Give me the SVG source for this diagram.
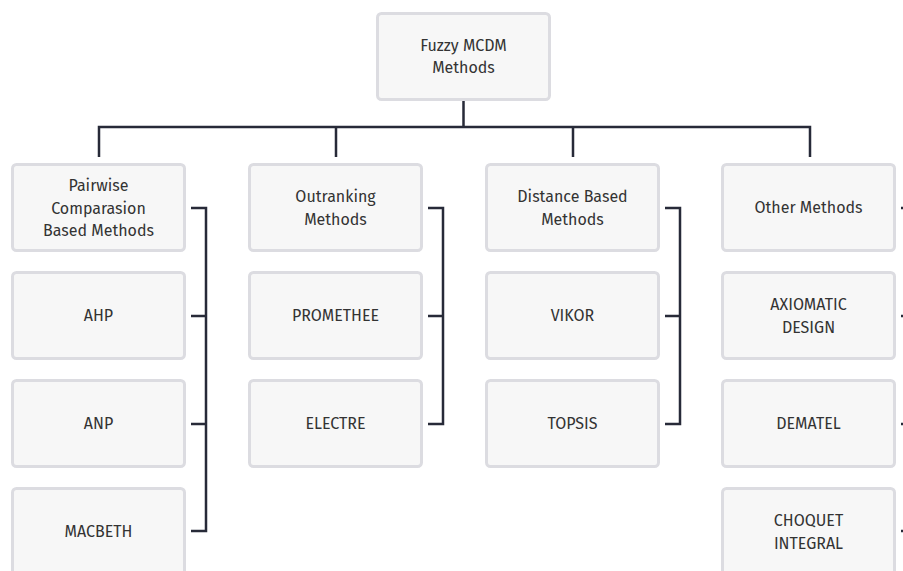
<svg xmlns="http://www.w3.org/2000/svg" width="903" height="571" viewBox="0 0 903 571">
<style>
.box{fill:#f7f7f7;stroke:#dcdce1;stroke-width:3}
.t{font-family:"Fira Sans","Open Sans","Noto Sans",sans-serif;font-size:16px;fill:#333;text-anchor:middle}
.c{fill:none;stroke:#272a38;stroke-width:2.5}
</style>
<rect width="903" height="571" fill="#fff"/>
<g id="connectors">
<path class="c" d="M463.5 100V127M99 157V127H810V157M336 127V157M573 127V157"/>
<path class="c" d="M191 208H206V531H191M191 316H206M191 424H206"/>
<path class="c" d="M428 208H443V424H428M428 316H443"/>
<path class="c" d="M665 208H680V424H665M665 316H680"/>
<path class="c" d="M901 208H905M901 316H905M901 424H905M901 531H905"/>
</g>
<g id="root"><rect class="box" x="377.5" y="13.5" width="172" height="86" rx="4"/><text class="t" x="463.5" y="51">Fuzzy MCDM</text><text class="t" x="463.5" y="73">Methods</text></g>
<g id="pairwise"><rect class="box" x="12.5" y="164.5" width="172" height="86" rx="4"/><text class="t" x="98.5" y="191">Pairwise</text><text class="t" x="98.5" y="214">Comparasion</text><text class="t" x="98.5" y="236">Based Methods</text></g>
<g id="ahp"><rect class="box" x="12.5" y="272.5" width="172" height="86" rx="4"/><text class="t" x="98.5" y="321">AHP</text></g>
<g id="anp"><rect class="box" x="12.5" y="380.5" width="172" height="86" rx="4"/><text class="t" x="98.5" y="429">ANP</text></g>
<g id="macbeth"><rect class="box" x="12.5" y="488.5" width="172" height="86" rx="4"/><text class="t" x="98.5" y="537">MACBETH</text></g>
<g id="outranking"><rect class="box" x="249.5" y="164.5" width="172" height="86" rx="4"/><text class="t" x="335.5" y="202">Outranking</text><text class="t" x="335.5" y="225">Methods</text></g>
<g id="promethee"><rect class="box" x="249.5" y="272.5" width="172" height="86" rx="4"/><text class="t" x="335.5" y="321">PROMETHEE</text></g>
<g id="electre"><rect class="box" x="249.5" y="380.5" width="172" height="86" rx="4"/><text class="t" x="335.5" y="429">ELECTRE</text></g>
<g id="distance"><rect class="box" x="486.5" y="164.5" width="172" height="86" rx="4"/><text class="t" x="572.5" y="202">Distance Based</text><text class="t" x="572.5" y="225">Methods</text></g>
<g id="vikor"><rect class="box" x="486.5" y="272.5" width="172" height="86" rx="4"/><text class="t" x="572.5" y="321">VIKOR</text></g>
<g id="topsis"><rect class="box" x="486.5" y="380.5" width="172" height="86" rx="4"/><text class="t" x="572.5" y="429">TOPSIS</text></g>
<g id="other"><rect class="box" x="722.5" y="164.5" width="172" height="86" rx="4"/><text class="t" x="808.5" y="213">Other Methods</text></g>
<g id="axiomatic"><rect class="box" x="722.5" y="272.5" width="172" height="86" rx="4"/><text class="t" x="808.5" y="310">AXIOMATIC</text><text class="t" x="808.5" y="333">DESIGN</text></g>
<g id="dematel"><rect class="box" x="722.5" y="380.5" width="172" height="86" rx="4"/><text class="t" x="808.5" y="429">DEMATEL</text></g>
<g id="choquet"><rect class="box" x="722.5" y="488.5" width="172" height="86" rx="4"/><text class="t" x="808.5" y="526">CHOQUET</text><text class="t" x="808.5" y="549">INTEGRAL</text></g>
</svg>
